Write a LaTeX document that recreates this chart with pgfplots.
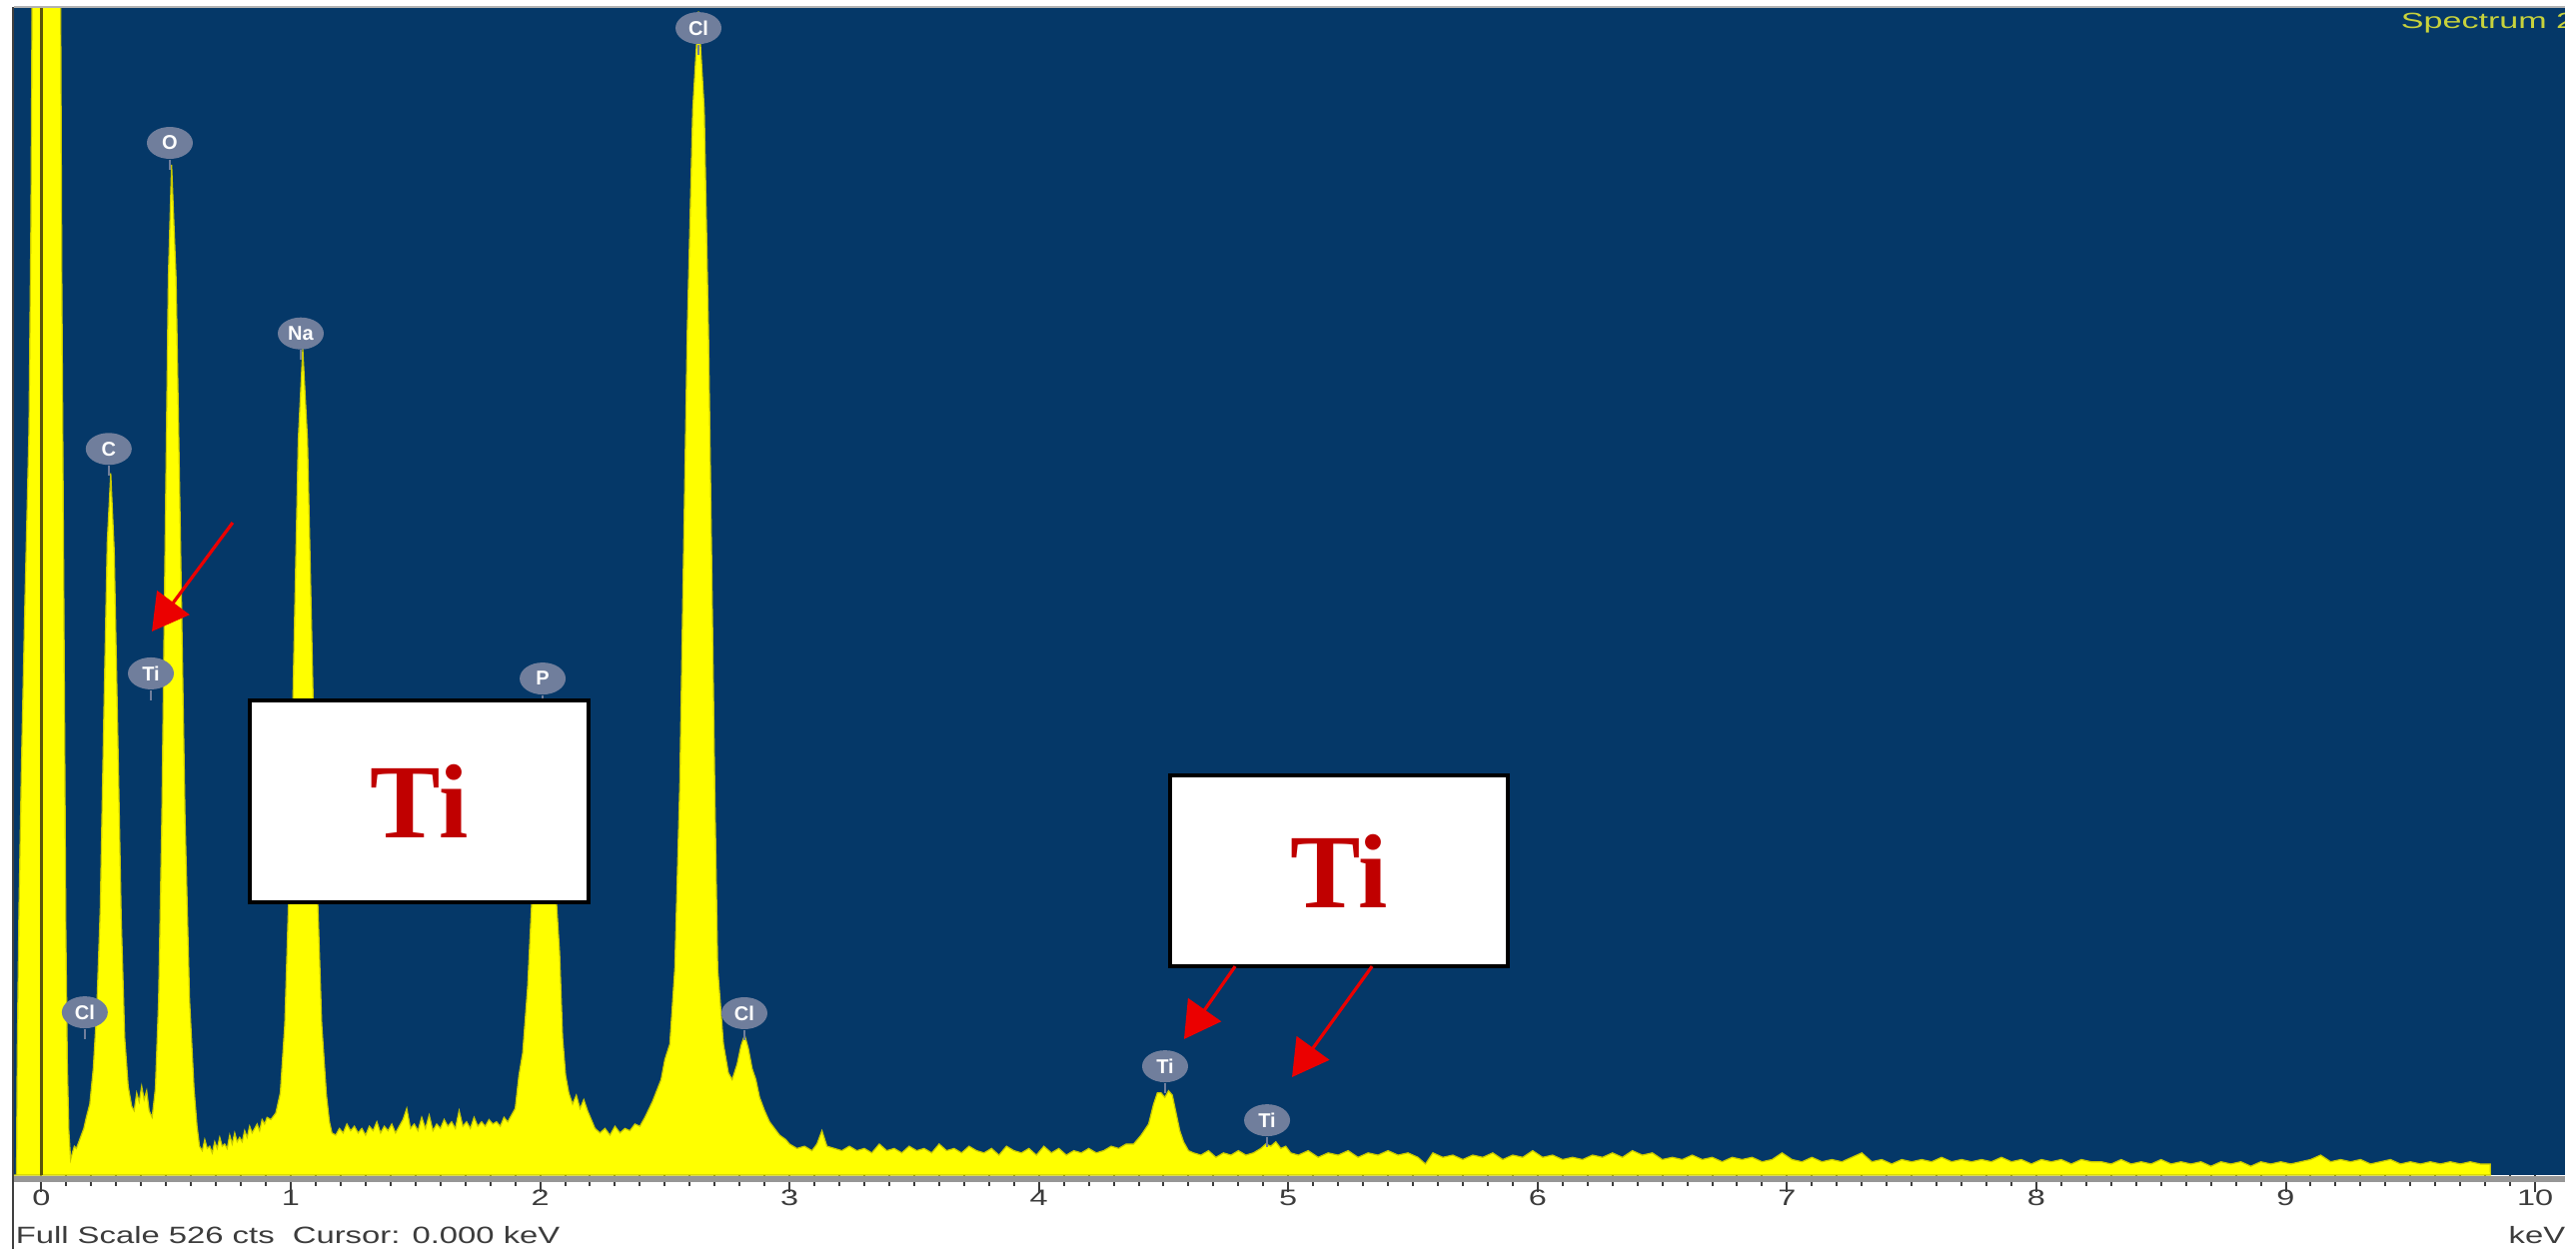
\documentclass[border=0pt]{standalone}
\usepackage{fontspec}
\setmainfont{Liberation Sans}
\setsansfont{Liberation Sans}
\newfontfamily\tiserif{Liberation Serif}
\usepackage{pgfplots}
\pgfplotsset{compat=1.18}
\usepackage{pgfplotstable}
\usetikzlibrary{arrows.meta, shapes.geometric}

\definecolor{SpecBlue}{RGB}{5,56,104}
\definecolor{SpecYellow}{RGB}{255,255,0}
\definecolor{EdgeYellow}{RGB}{200,200,0}
\definecolor{CursorOlive}{RGB}{90,85,10}
\definecolor{PeakGray}{RGB}{112,126,156}
\definecolor{TiRed}{RGB}{192,0,0}
\definecolor{ArrowRed}{RGB}{235,0,0}
\definecolor{TitleGreen}{RGB}{200,210,60}
\definecolor{TickGray}{RGB}{60,60,60}
\definecolor{AxisGray}{RGB}{150,150,150}

% EDS spectrum, energy (keV) vs counts
\pgfplotstableread[row sep=\\]{
E c \\
-0.110 0 \\ -0.100 0 \\ -0.097 55 \\ -0.090 120 \\ -0.080 185 \\ -0.066 259 \\ -0.050 335 \\
-0.042 430 \\ -0.036 560 \\ -0.030 900 \\ 0.070 900 \\ 0.076 560 \\ 0.082 400 \\ 0.090 259 \\
0.098 110 \\ 0.104 50 \\ 0.110 20 \\ 0.117 7 \\ 0.124 10 \\ 0.132 13 \\ 0.140 12 \\ 0.150 15 \\
0.160 18 \\ 0.170 21 \\ 0.180 26 \\
0.194 32 \\ 0.208 48 \\ 0.222 75 \\ 0.236 120 \\ 0.250 205 \\ 0.264 285 \\ 0.278 316 \\
0.292 281 \\ 0.306 200 \\ 0.320 116 \\ 0.334 62 \\ 0.348 40 \\ 0.362 31 \\
0.372 29 \\ 0.382 37 \\ 0.392 33 \\ 0.402 40 \\ 0.412 34 \\ 0.422 38 \\ 0.432 29 \\ 0.444 26 \\
0.457 39 \\ 0.470 79 \\ 0.483 161 \\ 0.496 284 \\ 0.509 404 \\ 0.522 455 \\ 0.540 404 \\
0.558 284 \\ 0.576 161 \\ 0.594 79 \\ 0.612 39 \\ 0.624 22 \\ 0.634 13 \\
0.645 11 \\ 0.655 16 \\ 0.665 12 \\ 0.675 13 \\ 0.685 10 \\ 0.695 15 \\ 0.705 12 \\ 0.715 17 \\
0.725 13 \\ 0.735 14 \\ 0.745 12 \\ 0.755 18 \\ 0.765 14 \\ 0.775 19 \\ 0.785 15 \\ 0.795 17 \\
0.805 15 \\ 0.815 20 \\ 0.825 17 \\ 0.835 22 \\ 0.845 19 \\ 0.855 21 \\ 0.865 23 \\ 0.875 20 \\
0.885 25 \\ 0.895 23 \\ 0.905 26 \\ 0.920 25 \\
0.940 28 \\ 0.958 37 \\ 0.976 68 \\ 0.994 134 \\ 1.012 233 \\ 1.030 331 \\ 1.048 372 \\
1.067 331 \\ 1.086 233 \\ 1.105 134 \\ 1.124 68 \\ 1.143 36 \\ 1.155 24 \\ 1.165 19 \\
1.180 18 \\ 1.195 21 \\ 1.210 19 \\ 1.225 23 \\ 1.240 20 \\ 1.255 22 \\ 1.270 19 \\ 1.285 21 \\
1.300 18 \\ 1.315 22 \\ 1.330 20 \\ 1.345 24 \\ 1.360 19 \\ 1.375 22 \\ 1.390 20 \\ 1.405 23 \\
1.420 19 \\ 1.435 22 \\ 1.450 25 \\ 1.465 30 \\ 1.480 21 \\ 1.495 23 \\ 1.510 20 \\ 1.525 26 \\
1.540 21 \\ 1.555 27 \\ 1.570 20 \\ 1.585 23 \\ 1.600 21 \\ 1.615 25 \\ 1.630 22 \\ 1.645 24 \\
1.660 21 \\ 1.675 29 \\ 1.690 22 \\ 1.705 24 \\ 1.720 21 \\ 1.735 26 \\ 1.750 22 \\ 1.765 24 \\
1.780 22 \\ 1.795 25 \\ 1.810 23 \\ 1.825 24 \\ 1.840 22 \\ 1.855 26 \\ 1.870 24 \\ 1.885 27 \\
1.900 30 \\ 1.915 45 \\ 1.930 55 \\ 1.950 85 \\ 1.970 132 \\ 1.993 190 \\ 2.015 212 \\
2.036 190 \\ 2.057 138 \\ 2.078 100 \\ 2.090 62 \\ 2.102 45 \\ 2.115 37 \\ 2.130 32 \\
2.145 36 \\ 2.160 30 \\ 2.175 34 \\ 2.190 29 \\ 2.205 25 \\ 2.220 21 \\
2.240 19 \\ 2.260 21 \\ 2.280 18 \\ 2.300 22 \\ 2.320 19 \\ 2.340 21 \\ 2.360 20 \\ 2.380 23 \\
2.400 22 \\
2.420 26 \\ 2.450 33 \\ 2.485 43 \\ 2.500 52 \\ 2.520 59 \\ 2.540 93 \\ 2.560 176 \\
2.572 259 \\ 2.590 380 \\ 2.612 480 \\ 2.635 524 \\ 2.658 480 \\ 2.675 380 \\ 2.690 259 \\
2.700 176 \\ 2.712 93 \\ 2.735 59 \\ 2.755 46 \\ 2.770 43 \\
2.790 50 \\ 2.805 58 \\ 2.820 63 \\ 2.835 57 \\ 2.850 48 \\ 2.865 43 \\ 2.880 35 \\
2.900 29 \\ 2.920 24 \\ 2.940 21 \\ 2.960 18 \\ 2.985 16 \\
3.00 14 \\ 3.03 12 \\ 3.06 13 \\ 3.09 11 \\ 3.11 14 \\ 3.13 20 \\ 3.15 13 \\ 3.18 12 \\
3.21 11 \\ 3.24 13 \\ 3.27 11 \\ 3.30 12 \\ 3.33 10 \\ 3.36 14 \\ 3.39 11 \\ 3.42 12 \\
3.45 10 \\ 3.48 13 \\ 3.51 11 \\ 3.54 12 \\ 3.57 10 \\ 3.60 14 \\ 3.63 11 \\ 3.66 12 \\
3.69 10 \\ 3.72 13 \\ 3.75 11 \\ 3.78 10 \\ 3.81 12 \\ 3.84 9 \\ 3.87 13 \\ 3.90 11 \\
3.93 10 \\ 3.96 12 \\ 3.99 9 \\ 4.02 13 \\ 4.05 10 \\ 4.08 12 \\ 4.11 9 \\ 4.14 11 \\
4.17 10 \\ 4.20 12 \\ 4.23 10 \\ 4.26 11 \\ 4.29 13 \\ 4.32 12 \\ 4.35 14 \\
4.38 14 \\ 4.41 18 \\ 4.44 23 \\ 4.46 32 \\ 4.475 37 \\ 4.49 37 \\ 4.505 35 \\ 4.52 38 \\
4.535 36 \\ 4.55 28 \\ 4.565 20 \\ 4.58 15 \\ 4.60 11 \\ 4.62 10 \\
4.65 9 \\ 4.68 11 \\ 4.71 8 \\ 4.74 10 \\ 4.77 9 \\ 4.80 11 \\ 4.83 9 \\ 4.86 10 \\
4.89 12 \\ 4.91 14 \\ 4.93 13 \\ 4.95 15 \\ 4.97 12 \\ 4.99 13 \\ 5.01 10 \\
5.04 9 \\ 5.08 11 \\ 5.12 8 \\ 5.16 10 \\ 5.20 9 \\ 5.24 11 \\ 5.28 8 \\ 5.32 10 \\
5.36 9 \\ 5.40 11 \\ 5.44 9 \\ 5.48 10 \\ 5.52 8 \\ 5.55 5 \\ 5.58 10 \\ 5.62 8 \\
5.66 9 \\ 5.70 7 \\ 5.74 9 \\ 5.78 8 \\ 5.82 10 \\ 5.86 7 \\ 5.90 9 \\ 5.94 8 \\
5.98 11 \\ 6.02 8 \\ 6.06 9 \\ 6.10 7 \\ 6.14 8 \\ 6.18 7 \\ 6.22 9 \\ 6.26 8 \\
6.30 10 \\ 6.34 8 \\ 6.38 11 \\ 6.42 9 \\ 6.46 10 \\ 6.50 7 \\ 6.54 8 \\ 6.58 7 \\
6.62 9 \\ 6.66 7 \\ 6.70 8 \\ 6.74 6 \\ 6.78 8 \\ 6.82 7 \\ 6.86 8 \\ 6.90 6 \\
6.94 7 \\ 6.98 10 \\ 7.02 7 \\ 7.06 6 \\ 7.10 8 \\ 7.14 6 \\ 7.18 7 \\ 7.22 6 \\
7.26 8 \\ 7.30 10 \\ 7.34 6 \\ 7.38 7 \\ 7.42 5 \\ 7.46 7 \\ 7.50 6 \\ 7.54 7 \\
7.58 6 \\ 7.62 8 \\ 7.66 6 \\ 7.70 7 \\ 7.74 6 \\ 7.78 7 \\ 7.82 6 \\ 7.86 8 \\
7.90 6 \\ 7.94 7 \\ 7.98 5 \\ 8.02 7 \\ 8.06 6 \\ 8.10 7 \\ 8.14 5 \\ 8.18 7 \\
8.22 6 \\ 8.26 6 \\ 8.30 5 \\ 8.34 7 \\ 8.38 5 \\ 8.42 6 \\ 8.46 5 \\ 8.50 7 \\
8.54 5 \\ 8.58 6 \\ 8.62 5 \\ 8.66 6 \\ 8.70 4 \\ 8.74 6 \\ 8.78 5 \\ 8.82 6 \\
8.86 4 \\ 8.90 6 \\ 8.94 5 \\ 8.98 6 \\ 9.02 5 \\ 9.06 6 \\ 9.10 7 \\ 9.14 9 \\
9.18 6 \\ 9.22 7 \\ 9.26 6 \\ 9.30 7 \\ 9.34 5 \\ 9.38 6 \\ 9.42 7 \\ 9.46 5 \\
9.50 6 \\ 9.54 5 \\ 9.58 6 \\ 9.62 5 \\ 9.66 6 \\ 9.70 5 \\ 9.74 6 \\ 9.78 5 \\
9.82 5 \\ 9.821 0 \\
}\spec

\tikzset{
  pk/.style={ellipse, fill=PeakGray, text=white, inner sep=0pt,
    minimum width=11.5pt, minimum height=8pt,
    font=\sffamily\bfseries\fontsize{5}{5}\selectfont},
  stem/.style={PeakGray, line width=0.6pt},
  tiarrow/.style={ArrowRed, line width=0.8pt, -{Triangle[length=9pt, width=10pt]}},
}

\begin{document}
\begin{tikzpicture}[x=0.25pt, y=0.25pt]
% canvas in reference pixels, y measured upward from the bottom edge
\useasboundingbox (0,0) rectangle (2578,1258);
\fill[white] (0,0) rectangle (2578,1258);
\begin{axis}[
  at={(3.5pt,20.5pt)}, anchor=south west,
  scale only axis, width=638.25pt, height=292.25pt,
  xmin=-0.11, xmax=10.12, ymin=0, ymax=526,
  axis background/.style={fill=SpecBlue},
  axis line style={draw=none},
  ytick=\empty,
  xtick={0,...,10},
  minor x tick num=9,
  xtick pos=left,
  tick align=outside,
  major tick length=4.2pt, minor tick length=2.7pt,
  every tick/.style={TickGray, line width=0.5pt},
  xticklabel={\scalebox{1.45}[1]{\pgfmathprintnumber{\tick}}},
  xticklabel style={font=\sffamily\fontsize{5.6}{6}\selectfont, text=TickGray, yshift=3.9pt},
  /pgf/number format/assume math mode=true,
  clip mode=individual,
]
\addplot[fill=SpecYellow, draw=EdgeYellow, line width=0.3pt] table[x=E, y=c] {\spec} \closedcycle;
\draw[CursorOlive, line width=0.8pt] (axis cs:0,0) -- (axis cs:0,526);

% peak markers
\node[pk] (o) at (axis cs:0.515,464.8) {O};
\node[pk] (c) at (axis cs:0.270,327) {C};
\node[pk] (til) at (axis cs:0.439,225.9) {Ti};
\node[pk] (na) at (axis cs:1.040,379) {Na};
\node[pk] (p) at (axis cs:2.010,223.6) {P};
\node[pk] (cla) at (axis cs:2.635,516.5) {Cl};
\node[pk] (cll) at (axis cs:0.174,73.3) {Cl};
\node[pk] (clb) at (axis cs:2.819,72.9) {Cl};
\node[pk] (tia) at (axis cs:4.506,49) {Ti};
\node[pk] (tib) at (axis cs:4.915,24.7) {Ti};
\pgfplotsinvokeforeach{o,c,til,na,p,cla,cll,clb,tia,tib}{
  \draw[stem] (#1.south) -- ++(0pt,-2.5pt);
}

% annotation boxes
\draw[black, line width=0.9pt, fill=white] (axis cs:0.8355,122.8) rectangle (axis cs:2.194,213.7);
\node[text=TiRed, font=\tiserif\bfseries\fontsize{26.4}{28}\selectfont] at (axis cs:1.515,168.3) {Ti};
\draw[black, line width=0.9pt, fill=white] (axis cs:4.526,94.0) rectangle (axis cs:5.881,180.0);
\node[text=TiRed, font=\tiserif\bfseries\fontsize{26.4}{28}\selectfont] at (axis cs:5.2035,137.0) {Ti};

% arrows
\draw[tiarrow] (axis cs:0.767,293.8) -- (axis cs:0.443,244.8);
\draw[tiarrow] (axis cs:4.787,94.0) -- (axis cs:4.582,61.2);
\draw[tiarrow] (axis cs:5.336,94.0) -- (axis cs:5.015,44.1);

\node[anchor=west, inner sep=0pt, text=TitleGreen, font=\sffamily\fontsize{5.5}{6}\selectfont]
  at (axis cs:9.459,518.8) {\scalebox{1.55}[1]{Spectrum 2}};
\end{axis}
% frame pieces around the plot
\fill[white] (2567,0) rectangle (2578,1258);
\fill[AxisGray] (14,75) rectangle (2567,81);
\fill[black!75] (11.5,8) rectangle (14,1251);
\draw[gray!60, line width=0.3pt] (14,1251) -- (2567,1251);
\node[anchor=west, inner sep=0pt, text=TickGray, font=\sffamily\fontsize{5.9}{6}\selectfont]
  at (15,21.5) {\scalebox{1.39}[1]{Full Scale 526 cts\ \ Cursor: 0.000 keV}};
\node[anchor=east, inner sep=0pt, text=TickGray, font=\sffamily\fontsize{5.9}{6}\selectfont]
  at (2568,21.5) {\scalebox{1.39}[1]{keV}};
\end{tikzpicture}
\end{document}
